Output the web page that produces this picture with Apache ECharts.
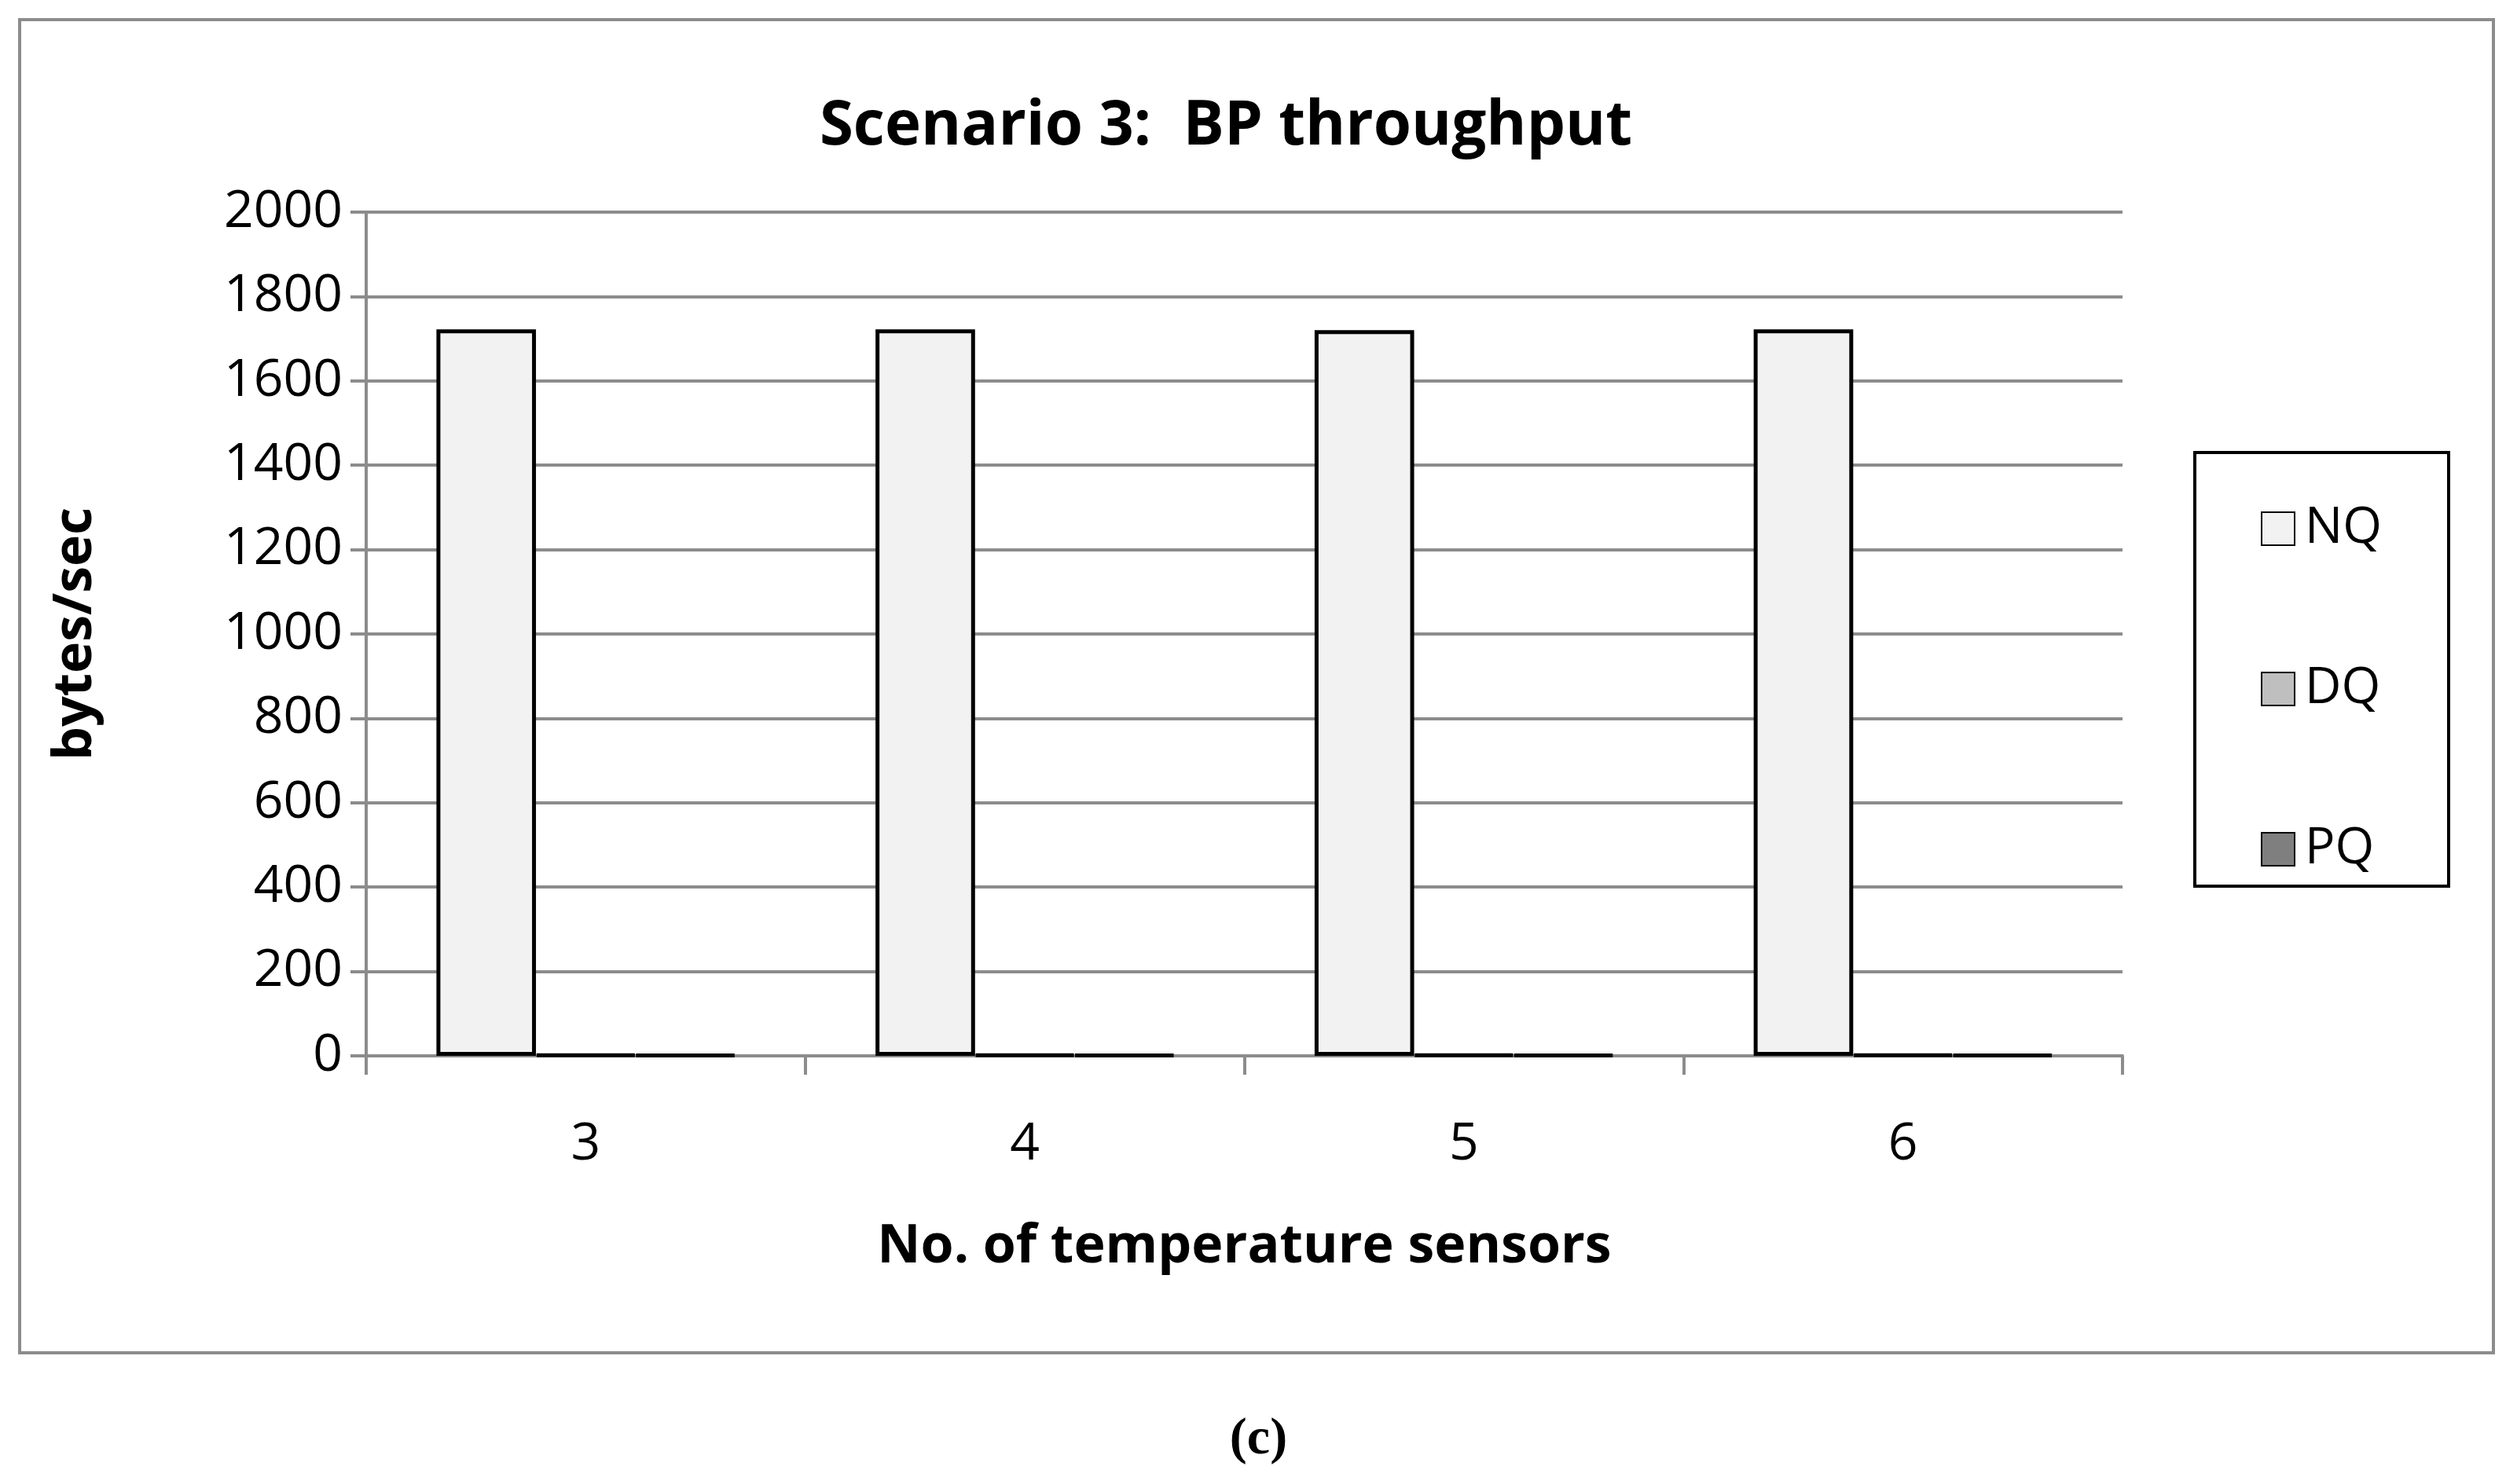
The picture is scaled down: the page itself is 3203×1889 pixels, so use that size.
<!DOCTYPE html>
<html><head><meta charset="utf-8">
<script src="https://cdn.jsdelivr.net/npm/echarts@6/dist/echarts.min.js"></script>
<style>html,body{margin:0;padding:0;background:#fff}#c{width:3203px;height:1889px}</style>
</head><body><div id="c"></div>
<script>
var categories = ['3','4','5','6'];
var nq = [1722, 1722, 1720, 1722];
var dq = [3, 3, 3, 3];
var pq = [2, 2, 2, 2];
var yTicks = [0,200,400,600,800,1000,1200,1400,1600,1800,2000];
var F = "'Open Sans', 'Liberation Sans', sans-serif";
var chart = echarts.init(document.getElementById('c'));
var barStyle = function(c){return {color:c,borderColor:'#000',borderWidth:5};};
chart.setOption({
  animation:false,
  graphic:[
    {type:'rect',shape:{x:25,y:25,width:3148,height:1697},style:{fill:'none',stroke:'#8c8c8c',lineWidth:4}},
    {type:'text',left:'center',top:1800,style:{text:'(c)',font:"bold 66px 'Liberation Serif', serif",fill:'#000'}},
    {type:'rect',shape:{x:2793,y:576,width:323,height:552},style:{fill:'#fff',stroke:'#000',lineWidth:4}}
  ],
  title:{text:'Scenario 3:  BP throughput',left:1555,textAlign:'center',top:118,textStyle:{fontFamily:F,fontWeight:'bold',fontSize:78,color:'#000'}},
  legend:{orient:'vertical',left:2872,top:636,itemGap:140,itemWidth:42,itemHeight:42,icon:'rect',
    textStyle:{fontFamily:F,fontSize:64,color:'#000',padding:[0,0,0,8]},data:['NQ','DQ','PQ']},
  grid:{left:466,right:502,top:270,bottom:545},
  xAxis:{type:'category',data:categories,
    axisLine:{lineStyle:{color:'#8c8c8c',width:4}},
    axisTick:{show:true,length:24,lineStyle:{color:'#8c8c8c',width:4}},
    axisLabel:{fontFamily:F,fontSize:66,color:'#000',margin:80},
    name:'No. of temperature sensors',nameLocation:'middle',nameGap:210,
    nameTextStyle:{fontFamily:F,fontSize:68,fontWeight:'bold',color:'#000'}},
  yAxis:{type:'value',min:0,max:2000,interval:200,
    axisLine:{show:true,lineStyle:{color:'#8c8c8c',width:4}},
    axisTick:{show:true,length:20,lineStyle:{color:'#8c8c8c',width:4}},
    splitLine:{lineStyle:{color:'#8c8c8c',width:4}},
    axisLabel:{fontFamily:F,fontSize:66,color:'#000',margin:30,formatter:function(v){return String(v);}},
    name:'bytes/sec',nameLocation:'middle',nameGap:335,nameRotate:90,
    nameTextStyle:{fontFamily:F,fontSize:68,fontWeight:'bold',color:'#000'}},
  series:[
    {name:'NQ',type:'bar',data:nq,itemStyle:barStyle('#f2f2f2'),barGap:'0%',barCategoryGap:'32%'},
    {name:'DQ',type:'bar',data:dq,itemStyle:barStyle('#bfbfbf')},
    {name:'PQ',type:'bar',data:pq,itemStyle:barStyle('#7f7f7f')}
  ]
});
</script></body></html>
